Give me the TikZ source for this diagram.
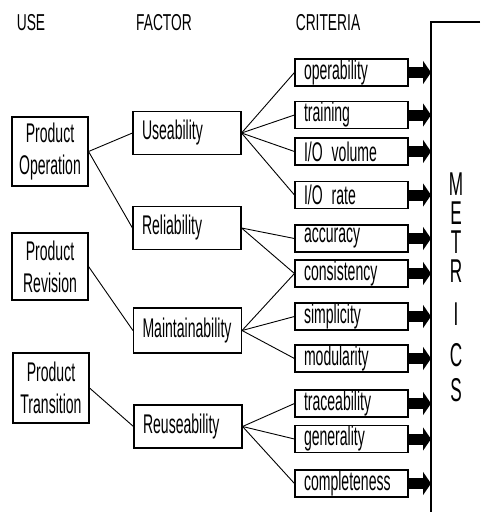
\documentclass[tikz,border=0pt]{standalone}
\usepackage{fontspec}
\setmainfont{Liberation Sans}[FakeStretch=0.6]
\newfontfamily\plotfont{Liberation Sans}[FakeStretch=0.52]
\usetikzlibrary{arrows.meta}
\begin{document}
\begin{tikzpicture}[x=1pt,y=-1pt,
  txt/.style={font=\plotfont\fontsize{27}{32}\selectfont},
  hdr/.style={font=\fontsize{23}{24}\selectfont, inner sep=0pt},
  usebox/.style={draw, line width=1.1pt, txt, minimum width=76pt, inner sep=0pt, align=center},
  facbox/.style={draw, line width=1.1pt, txt, minimum width=108pt, minimum height=43pt, inner ysep=0pt, inner xsep=9pt, text width=90pt, align=left},
  critbox/.style={draw, line width=1.1pt, txt, minimum width=113pt, minimum height=27pt, inner ysep=0pt, inner xsep=9pt, text width=95pt, align=left},
  link/.style={line width=0.9pt},
  metarrow/.style={line width=11pt, -{Triangle[length=8pt,width=23pt]}},
  metletter/.style={font=\plotfont\fontsize{33}{34}\selectfont, inner sep=0pt, text height=22pt, text depth=0pt}
]
\useasboundingbox (0,0) rectangle (480,517);
% headers
\node[hdr] (hUse) at (31,23) {USE};
\node[hdr] (hFac) at (164,23) {FACTOR};
\node[hdr] (hCrit) at (328,23) {CRITERIA};
% use boxes
\node[usebox, minimum height=69pt] (uOp) at (50,151.5) {Product\\Operation};
\node[usebox, minimum height=67pt] (uRev) at (50,266.5) {Product\\Revision};
\node[usebox, minimum height=70pt] (uTr) at (51,388) {Product\\Transition};
% factor boxes
\node[facbox] (fUse) at (187,133) {Useability};
\node[facbox] (fRel) at (187,228) {Reliability};
\node[facbox, minimum height=45pt] (fMain) at (187.5,330.5) {Maintainability};
\node[facbox] (fReu) at (188,426.5) {Reuseability};
% criteria boxes
\node[critbox] (cOp) at (351.5,72.5) {operability};
\node[critbox] (cTr) at (351.5,115) {training};
\node[critbox] (cIov) at (351.5,151.5) {I/O volume};
\node[critbox] (cIor) at (351.5,195) {I/O rate};
\node[critbox] (cAcc) at (351.5,238.5) {accuracy};
\node[critbox] (cCon) at (351.5,273.5) {consistency};
\node[critbox] (cSim) at (351.5,316.5) {simplicity};
\node[critbox] (cMod) at (351.5,358.5) {modularity};
\node[critbox] (cTra) at (351.5,403.5) {traceability};
\node[critbox] (cGen) at (351.5,439) {generality};
\node[critbox] (cCom) at (351.5,483.5) {completeness};
% metrics bar
\coordinate (mRight) at (480,22);
\coordinate (mTop) at (431,22);
\coordinate (mBot) at (431,512);
\draw[line width=1.1pt] (mRight) -- (mTop) -- (mBot);
\foreach \n/\l/\y in {m1/M/184,m2/E/213,m3/T/242,m4/R/271,m5/I/314,m6/C/355,m7/S/390}
  \node[metletter] (\n) at (456,\y) {\l};
% use -> factor
\draw[link] (uOp.east) -- (fUse.west);
\draw[link] (uOp.east) -- (fRel.west);
\draw[link] (uRev.east) -- (fMain.west);
\draw[link] (uTr.east) -- (fReu.west);
% factor -> criteria
\foreach \c in {cOp,cTr,cIov,cIor} \draw[link] (fUse.east) -- (\c.west);
\foreach \c in {cAcc,cCon} \draw[link] (fRel.east) -- (\c.west);
\foreach \c in {cCon,cSim,cMod} \draw[link] (fMain.east) -- (\c.west);
\foreach \c in {cTra,cGen,cCom} \draw[link] (fReu.east) -- (\c.west);
% criteria -> metrics
\foreach \c in {cOp,cTr,cIov,cIor,cAcc,cCon,cSim,cMod,cTra,cGen,cCom}
  \draw[metarrow] (\c.east) -- (\c.east -| mTop);
\end{tikzpicture}
\end{document}
